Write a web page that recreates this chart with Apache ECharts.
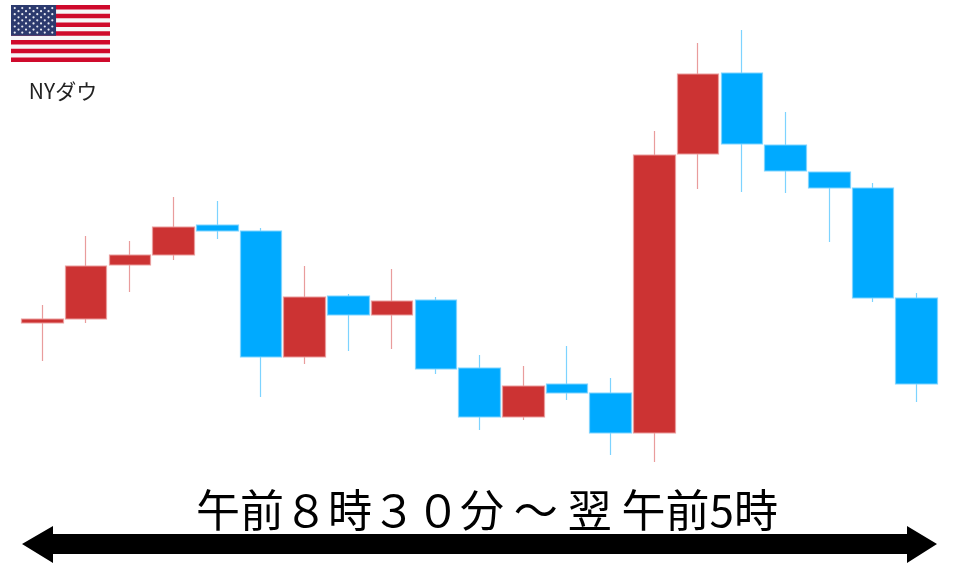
<!DOCTYPE html>
<html>
<head>
<meta charset="utf-8">
<style>
html, body { margin: 0; padding: 0; background: #fff; }
#chart { width: 960px; height: 567px; }
</style>
<script src="https://cdn.jsdelivr.net/npm/echarts@6/dist/echarts.min.js"></script>
</head>
<body>
<div id="chart"></div>
<script>
// 値は画像から読み取ったもの（目盛りが無いので下端0の相対値）
const opens  = [244, 248, 302, 312, 342, 336, 210, 271, 252, 267, 199, 150, 183, 174, 134, 413, 494, 422, 395, 379, 269]
const closes = [248, 301, 312, 340, 336, 210, 270, 252, 266, 198, 150, 181, 174, 134, 412, 493, 423, 396, 379, 269, 183]
const lows   = [206, 244, 275, 307, 328, 170, 203, 216, 218, 193, 137, 147, 167, 112, 105, 378, 375, 374, 325, 265, 165]
const highs  = [262, 331, 326, 370, 366, 339, 301, 273, 298, 270, 212, 201, 221, 189, 436, 524, 537, 455, 395, 384, 274]
const categories = opens.map((v, i) => String(i + 1))

const titleText = '午前８時３０分 ～ 翌 午前5時'
const flagLabel = 'NYダウ'

/**
 * 星条旗をgraphicで組み立てる
 */
function buildFlag(x, y, w, h) {
	const items = []
	const stripeH = h / 13
	items.push({ type: 'rect', shape: { x: x, y: y, width: w, height: h }, style: { fill: '#f6f6f8' } })
	for (let i = 0; i < 13; i += 2) {
		items.push({
			type: 'rect',
			shape: { x: x, y: y + i * stripeH, width: w, height: stripeH },
			style: { fill: '#cf0a2c' }
		})
	}
	const cantonW = w * 0.455
	const cantonH = stripeH * 7
	items.push({ type: 'rect', shape: { x: x, y: y, width: cantonW, height: cantonH }, style: { fill: '#2c3a6e' } })
	// 星 9行 6個/5個
	for (let row = 0; row < 9; row++) {
		const count = row % 2 === 0 ? 6 : 5
		for (let col = 0; col < count; col++) {
			const sx = x + cantonW * ((col + (row % 2 === 0 ? 0.5 : 1)) / 6)
			const sy = y + cantonH * ((row + 1) / 10)
			items.push({ type: 'circle', shape: { cx: sx, cy: sy, r: 1.1 }, style: { fill: '#e8eaf2' } })
		}
	}
	return items
}

const chart = echarts.init(document.getElementById('chart'))
chart.setOption({
	animation: false,
	backgroundColor: '#fff',
	grid: { left: 20.6, width: 918, top: 0, bottom: 0 },
	xAxis: { type: 'category', data: categories, show: false, boundaryGap: true },
	yAxis: { type: 'value', min: 0, max: 567, show: false, splitLine: { show: false } },
	series: [{
		type: 'candlestick',
		barWidth: 42,
		data: opens.map((o, i) => [o, closes[i], lows[i], highs[i]]),
		itemStyle: {
			color: '#cc3333',
			color0: '#00aaff',
			borderColor: '#e99c9c',
			borderColor0: '#7dd3ff',
			borderWidth: 1.2
		}
	}],
	graphic: [
		...buildFlag(11, 5, 99, 57),
		{
			type: 'text',
			style: {
				x: 63, y: 91, text: flagLabel, align: 'center', verticalAlign: 'middle',
				fontSize: 21, fontFamily: '"Noto Sans CJK JP"', fill: '#222'
			}
		},
		{
			type: 'text',
			style: {
				x: 487, y: 510, text: titleText, align: 'center', verticalAlign: 'middle',
				fontSize: 44, fontFamily: '"Noto Sans CJK JP"', fill: '#000'
			}
		},
		{
			// 両矢印
			type: 'polygon',
			shape: {
				points: [[22, 544], [53, 526], [53, 534], [907, 534], [907, 526], [937, 544], [907, 563], [907, 554], [53, 554], [53, 563]]
			},
			style: { fill: '#000' }
		}
	]
})
</script>
</body>
</html>
